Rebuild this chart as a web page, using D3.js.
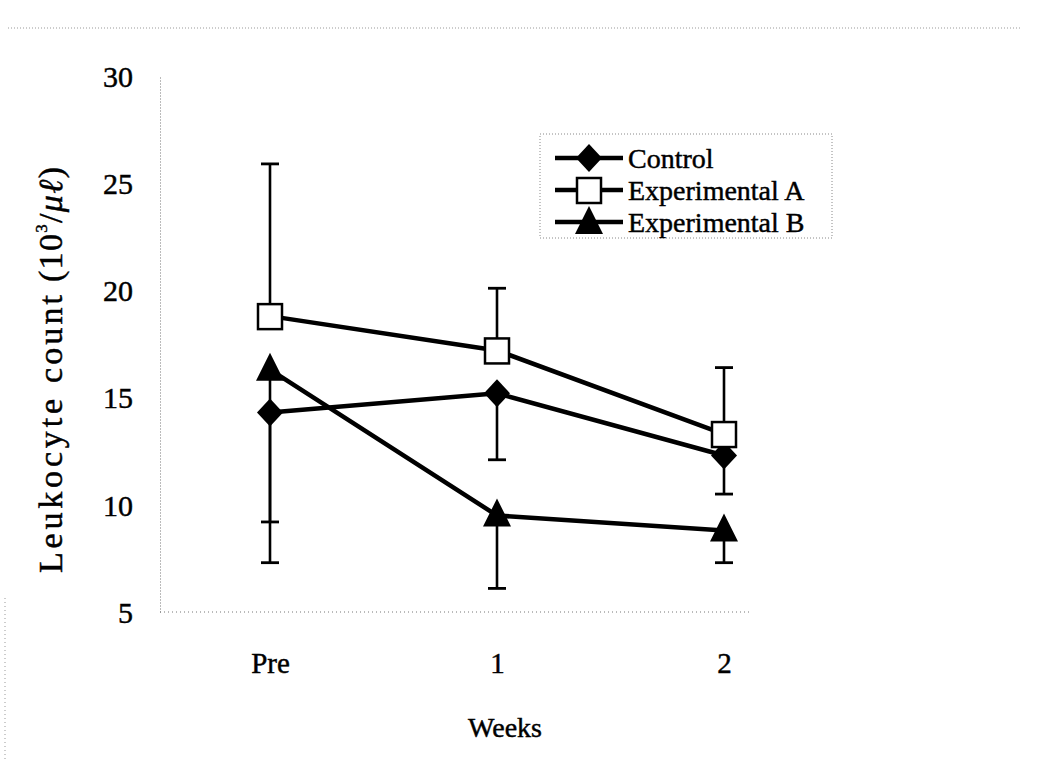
<!DOCTYPE html>
<html>
<head>
<meta charset="utf-8">
<script src="https://cdn.jsdelivr.net/npm/d3@7"></script>
<style>
  body { margin: 0; background: #fff; }
  text { font-family: "Liberation Serif", "Times New Roman", serif; fill: #000; stroke: #000; stroke-width: 0.45px; }
</style>
</head>
<body>
<div id="chart"></div>
<script>
// data
const weeks = ["Pre", "1", "2"];
const control = [14.3, 15.2, 12.3];
const controlErr = [7.0, 3.1, 1.8];
const expA = [18.8, 17.2, 13.3];
const expAErr = [7.1, 2.9, 3.1];
const expB = [16.3, 9.5, 8.8];
const expBErr = [7.1, 3.4, 1.5];
const yTicks = [5, 10, 15, 20, 25, 30];

const series = [
    { name: "Control", values: control, err: controlErr, dir: -1, shape: "diamond" },
    { name: "Experimental A", values: expA, err: expAErr, dir: 1, shape: "square" },
    { name: "Experimental B", values: expB, err: expBErr, dir: -1, shape: "triangle" }
];

const width = 1061, height = 760;

const svg = d3.select("#chart").append("svg")
    .attr("width", width)
    .attr("height", height);

// scan border leftovers
svg.append("line")
    .attr("x1", 8).attr("x2", 1022).attr("y1", 28).attr("y2", 28)
    .attr("stroke", "#999").attr("stroke-width", 1).attr("stroke-dasharray", "1,2");
svg.append("line")
    .attr("x1", 5).attr("x2", 5).attr("y1", 598).attr("y2", 760)
    .attr("stroke", "#999").attr("stroke-width", 1).attr("stroke-dasharray", "1,3");

const x = d3.scalePoint().domain(weeks).range([270, 724]);
const y = d3.scaleLinear().domain([5, 30]).range([612, 76]);

// y axis
const yAxis = svg.append("g")
    .attr("transform", "translate(160,0)")
    .call(d3.axisLeft(y).tickValues(yTicks).tickSize(0).tickPadding(27));
yAxis.select(".domain")
    .attr("stroke", "#777").attr("stroke-dasharray", "1,2");
yAxis.selectAll("text")
    .attr("font-size", 30).attr("dy", "0.34em");

// x axis
const xAxis = svg.append("g")
    .attr("transform", "translate(0,612)")
    .call(d3.axisBottom(x).tickSize(0).tickPadding(40));
xAxis.select(".domain")
    .attr("d", "M160,0H752")
    .attr("stroke", "#777").attr("stroke-dasharray", "1,3");
xAxis.selectAll("text")
    .attr("font-size", 29);

// axis titles
svg.append("text")
    .attr("x", 505).attr("y", 737)
    .attr("text-anchor", "middle")
    .attr("font-size", 28)
    .text("Weeks");

// y title, word by word so the spacing follows the scan
const yTitle = svg.append("g").attr("transform", "translate(62,573) rotate(-90)");
yTitle.append("text")
    .attr("x", 0).attr("font-size", 34)
    .attr("textLength", 174).attr("lengthAdjust", "spacing")
    .text("Leukocyte");
yTitle.append("text")
    .attr("x", 190).attr("font-size", 34)
    .attr("textLength", 88).attr("lengthAdjust", "spacing")
    .text("count");
const unit = yTitle.append("text")
    .attr("x", 291).attr("font-size", 34)
    .attr("textLength", 115).attr("lengthAdjust", "spacing");
unit.append("tspan").text("(10");
unit.append("tspan").attr("font-size", 17).attr("dy", -15).text("3");
unit.append("tspan").attr("dy", 15).text("/");
unit.append("tspan").attr("font-style", "italic").text("μℓ");
unit.append("tspan").text(")");

// markers
function drawMarker(g, shape, cx, cy) {
    if (shape === "diamond") {
        g.append("path")
            .attr("d", `M${cx},${cy - 14}L${cx + 13},${cy}L${cx},${cy + 14}L${cx - 13},${cy}Z`)
            .attr("fill", "#000");
    } else if (shape === "square") {
        g.append("rect")
            .attr("x", cx - 12).attr("y", cy - 12)
            .attr("width", 24).attr("height", 25)
            .attr("fill", "#fff").attr("stroke", "#000").attr("stroke-width", 2.5);
    } else {
        g.append("path")
            .attr("d", `M${cx},${cy - 17}L${cx + 14},${cy + 11}L${cx - 14},${cy + 11}Z`)
            .attr("fill", "#000");
    }
}

const line = d3.line().x((d, i) => x(weeks[i])).y(d => y(d));

// error bars
series.forEach(s => {
    const g = svg.append("g");
    s.values.forEach((v, i) => {
        const cx = x(weeks[i]);
        const end = y(v + s.dir * s.err[i]);
        g.append("line")
            .attr("x1", cx).attr("x2", cx)
            .attr("y1", y(v)).attr("y2", end)
            .attr("stroke", "#000").attr("stroke-width", 2.6);
        g.append("line")
            .attr("x1", cx - 9).attr("x2", cx + 9)
            .attr("y1", end).attr("y2", end)
            .attr("stroke", "#000").attr("stroke-width", 2.8);
    });
});

// lines + markers
series.forEach(s => {
    const g = svg.append("g");
    g.append("path")
        .datum(s.values)
        .attr("d", line)
        .attr("fill", "none")
        .attr("stroke", "#000")
        .attr("stroke-width", 4.5);
    s.values.forEach((v, i) => drawMarker(g, s.shape, x(weeks[i]), y(v)));
});

// legend
const legend = svg.append("g");
legend.append("rect")
    .attr("x", 540).attr("y", 134)
    .attr("width", 292).attr("height", 104)
    .attr("fill", "none")
    .attr("stroke", "#888").attr("stroke-dasharray", "1,2");

series.forEach((s, i) => {
    const ly = 158 + i * 32;
    legend.append("line")
        .attr("x1", 555).attr("x2", 623)
        .attr("y1", ly).attr("y2", ly)
        .attr("stroke", "#000").attr("stroke-width", 4.5);
    drawMarker(legend, s.shape, 589, ly + (s.shape === "triangle" ? 1 : 0));
    legend.append("text")
        .attr("x", 628).attr("y", ly)
        .attr("dy", "0.35em")
        .attr("font-size", 28)
        .text(s.name);
});
</script>
</body>
</html>
